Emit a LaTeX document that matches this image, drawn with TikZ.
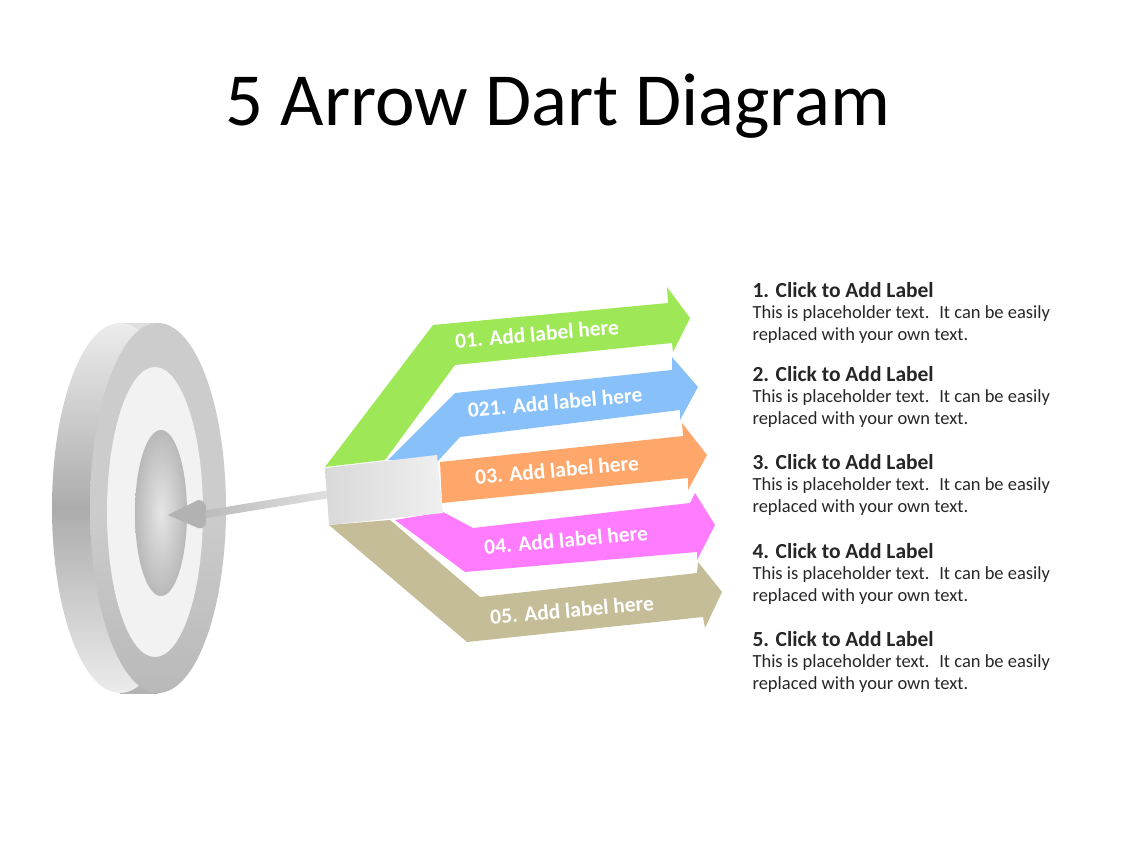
\documentclass[tikz,border=0pt]{standalone}
\usepackage{fontspec}
\setmainfont{Carlito}
\begin{document}
\begin{tikzpicture}[x=1pt,y=-1pt,
  lab/.style={text=white,font=\bfseries\fontsize{21.5}{24}\selectfont,rotate=5},
  head/.style={anchor=west,font=\bfseries\fontsize{21.5}{24}\selectfont,text=black!85},
  body/.style={anchor=west,align=left,font=\fontsize{18.5}{22}\selectfont,text=black!85}]
\useasboundingbox (0,0) rectangle (1128,846);
\definecolor{cg}{HTML}{9EE857}\definecolor{cb}{HTML}{88C1FA}
\definecolor{co}{HTML}{FFA66B}\definecolor{cp}{HTML}{FF7CFF}\definecolor{ct}{HTML}{C4BD97}
\node (title) at (558,106) {\fontsize{75}{80}\selectfont 5 Arrow Dart Diagram};
% target
\shade[left color=gray!25,right color=gray!60,shading angle=0] (120,323) rectangle (158,693);
\shade[top color=gray!15,bottom color=gray!15,middle color=gray!65] (120,508) ellipse [x radius=68,y radius=185];
\shade[top color=gray!40,bottom color=gray!55,middle color=gray!40] (158,508) ellipse [x radius=68,y radius=185];
\fill[gray!10] (155,512) ellipse [x radius=48,y radius=145];
\shade[inner color=gray!20,outer color=gray!55] (161,513) ellipse [x radius=26,y radius=83];
% dart
\shade[left color=gray!55,right color=gray!25] (195,512) -- (330,490) -- (330,498) -- (195,520) -- cycle;
\fill[gray!60] (168,515) -- (198,500) .. controls (206,500) and (208,508) .. (205,514) .. controls (208,524) and (204,530) .. (198,528) -- cycle;
% arrows
\fill[cg] (325,467) -- (433,325) -- (668,303) -- (667,287) -- (690,318) -- (673,352) -- (672,343) -- (455,365) -- (385,460) -- cycle;
\fill[cb] (388,460) -- (455,393) -- (672,370) -- (672,357) -- (698,387) -- (680,420) -- (680,410) -- (460,437) -- (437,462) -- cycle;
\fill[ct] (329,525) -- (390,520) -- (480,597) -- (697,573) -- (698,562) -- (722,592) -- (705,628) -- (703,617) -- (467,642) -- cycle;
\fill[cp] (395,520) -- (443,512) -- (473,528) -- (690,503) -- (695,493) -- (715,525) -- (697,560) -- (697,552) -- (465,572) -- cycle;
\fill[co] (440,462) -- (683,436) -- (682,423) -- (707,455) -- (688,490) -- (688,478) -- (442,503) -- cycle;
\shade[left color=gray!30,right color=gray!12] (325,468) -- (437,455) -- (443,513) -- (329,525) -- cycle;
\node[lab] (l1) at (537,334) {01. Add label here};
\node[lab] (l2) at (555,402) {021. Add label here};
\node[lab] (l3) at (557,470) {03. Add label here};
\node[lab] (l4) at (566,540) {04. Add label here};
\node[lab] (l5) at (572,610) {05. Add label here};
% texts
\foreach \y/\n in {290/1,374/2,462/3,551/4,639/5}{
  \node[head] (h\n) at (749,\y) {\n. Click to Add Label};
  \node[body,anchor=north west] (b\n) at (749,\y+12) {This is placeholder text.~ It can be easily\\replaced with your own text.};
}
\end{tikzpicture}
\end{document}
